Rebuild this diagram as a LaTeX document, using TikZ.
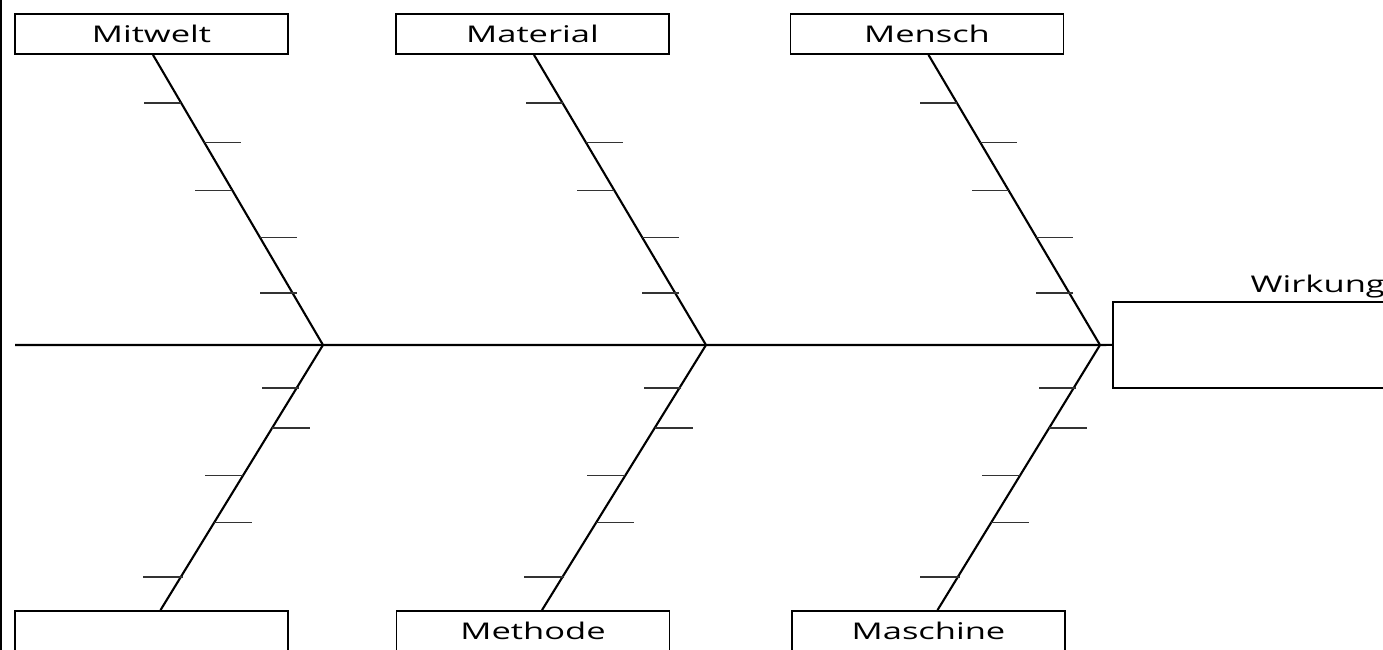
\documentclass[tikz,border=0pt]{standalone}
\usepackage{fontspec}
\setmainfont{Open Sans}
\newfontfamily\lblfont[FakeStretch=1.5]{Open Sans}
\usetikzlibrary{calc}
\begin{document}
\begin{tikzpicture}[x=1pt,y=-1pt,
  lbl/.style={font=\lblfont\fontsize{23}{25}\selectfont},
  box/.style={draw=black,line width=1.8pt,minimum width=273pt,minimum height=40pt,inner sep=0pt,lbl},
  bone/.style={line width=2.1pt},
  tick/.style={line width=1.7pt,draw=black!80}]
\useasboundingbox (0,0) rectangle (1383,650);
\fill[black] (0,0) rectangle (2,650);
% boxes
\node[box] (mit) at (151.5,34) {Mitwelt};
\node[box] (mat) at (532.5,34) {Material};
\node[box] (men) at (927,34) {Mensch};
\node[box] (b1) at (151.5,631) {};
\node[box] (met) at (533,631) {Methode};
\node[box] (mas) at (928.5,631) {Maschine};
\node[draw=black,line width=1.8pt,minimum width=300pt,minimum height=86pt,inner sep=0pt,anchor=north west] (eff) at (1112,301) {};
\node[anchor=base east,inner sep=0pt,lbl] (wl) at (1385,292) {Wirkung};
% junctions
\coordinate (j1) at (323,345);
\coordinate (j2) at (706,345);
\coordinate (j3) at (1100,345);
\coordinate (start) at (15,345);
% main line
\draw[bone] (start) -- (j1) -- (j2) -- (j3) -- (eff.west);
% top bones with ticks
\foreach \b/\j in {mit/j1,mat/j2,men/j3}{
  \draw[bone] ($(\b.south)+(1.5,0)$) -- (\j)
    coordinate[pos=0.167] (\b t1)
    coordinate[pos=0.302] (\b t2)
    coordinate[pos=0.467] (\b t3)
    coordinate[pos=0.629] (\b t4)
    coordinate[pos=0.821] (\b t5);
  \draw[tick] (\b t1) -- ++(-37,0);
  \draw[tick] (\b t2) -- ++(37,0);
  \draw[tick] (\b t3) -- ++(-37,0);
  \draw[tick] (\b t4) -- ++(37,0);
  \draw[tick] ($(\b t5)+(4,0)$) -- ++(-37,0);
}
% bottom bones with ticks
\foreach \b/\j in {b1/j1,met/j2,mas/j3}{
  \draw[bone] (\j) -- ($(\b.north)+(9,0)$)
    coordinate[pos=0.162] (\b t1)
    coordinate[pos=0.312] (\b t2)
    coordinate[pos=0.492] (\b t3)
    coordinate[pos=0.669] (\b t4)
    coordinate[pos=0.876] (\b t5);
  \draw[tick] ($(\b t1)+(2,0)$) -- ++(-37,0);
  \draw[tick] (\b t2) -- ++(38,0);
  \draw[tick] (\b t3) -- ++(-38,0);
  \draw[tick] (\b t4) -- ++(38,0);
  \draw[tick] ($(\b t5)+(2,0)$) -- ++(-40,0);
}
\end{tikzpicture}
\end{document}
